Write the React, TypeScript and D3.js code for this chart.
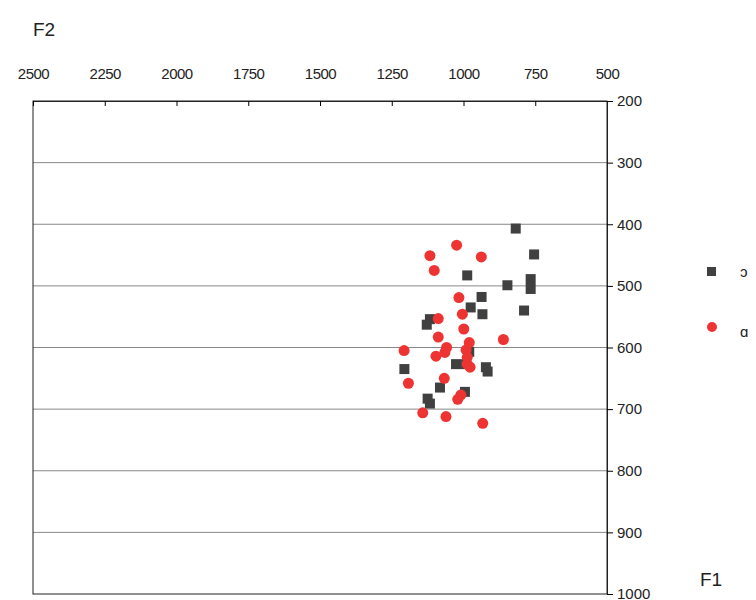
import React, { useEffect, useRef } from 'react'
import * as d3 from 'd3'

// [F2, F1]
const seriesO: [number, number][] = [
  [818, 407], [754, 449], [987, 483], [847, 499], [766, 489], [766, 505],
  [937, 518], [975, 535], [934, 546], [789, 540], [1117, 554], [1128, 563],
  [980, 607], [1026, 627], [991, 627], [922, 632], [916, 639], [1206, 635],
  [1082, 665], [995, 672], [1125, 683], [1117, 691],
]
const seriesA: [number, number][] = [
  [1024, 434], [1117, 451], [938, 453], [1102, 475], [1016, 519], [1004, 546],
  [1088, 553], [999, 570], [1088, 583], [861, 587], [980, 592], [1207, 605],
  [1059, 600], [1065, 608], [1096, 614], [991, 604], [987, 616], [987, 627],
  [977, 632], [1067, 650], [1192, 658], [1009, 677], [1020, 684], [1142, 706],
  [1061, 712], [933, 723],
]
const xTicks = [2500, 2250, 2000, 1750, 1500, 1250, 1000, 750, 500]
const yTicks = [200, 300, 400, 500, 600, 700, 800, 900, 1000]

const App: React.FC = () => {
  const el = useRef<SVGSVGElement>(null)

  useEffect(() => {
    const svg = d3.select(el.current)
    svg.selectAll('*').remove()
    const x = d3.scaleLinear().domain([2500, 500]).range([33, 607])
    const y = d3.scaleLinear().domain([200, 1000]).range([101, 594])
    const font = 'Arial, "Liberation Sans", sans-serif'

    svg.append('g').selectAll('line').data(yTicks.slice(1, -1)).join('line')
      .attr('x1', 33).attr('x2', 607).attr('y1', (d) => y(d)).attr('y2', (d) => y(d))
      .attr('stroke', '#888').attr('stroke-width', 1)

    svg.append('rect').attr('x', 33).attr('y', 101).attr('width', 574).attr('height', 493)
      .attr('fill', 'none').attr('stroke', '#222').attr('stroke-width', 1)

    const top = svg.append('g').attr('transform', 'translate(0,101)')
      .call(d3.axisTop(x).tickValues(xTicks).tickSize(-5).tickSizeOuter(0).tickFormat(d3.format('d')))
    top.select('.domain').attr('stroke', '#222')
    top.selectAll('text').attr('y', -22).attr('font-size', 15).attr('font-family', font).attr('fill', '#222')
      .attr('letter-spacing', '-0.5')

    const right = svg.append('g').attr('transform', 'translate(607,0)')
      .call(d3.axisRight(y).tickValues(yTicks).tickSize(6).tickSizeOuter(0).tickFormat(d3.format('d')))
    right.select('.domain').attr('stroke', '#222')
    right.selectAll('text').attr('x', 10).attr('font-size', 15).attr('font-family', font).attr('fill', '#222')

    svg.append('g').selectAll('rect').data(seriesO).join('rect')
      .attr('x', (d) => x(d[0]) - 5).attr('y', (d) => y(d[1]) - 5)
      .attr('width', 10).attr('height', 10).attr('fill', '#404040')
    svg.append('g').selectAll('circle').data(seriesA).join('circle')
      .attr('cx', (d) => x(d[0])).attr('cy', (d) => y(d[1])).attr('r', 5.5).attr('fill', '#ee3333')

    svg.append('rect').attr('x', 707).attr('y', 267).attr('width', 9).attr('height', 9).attr('fill', '#404040')
    svg.append('circle').attr('cx', 712).attr('cy', 327).attr('r', 5).attr('fill', '#ee3333')
    svg.append('text').attr('x', 740).attr('y', 277).text('ɔ').attr('font-size', 15).attr('font-family', font).attr('fill', '#222')
    svg.append('text').attr('x', 740).attr('y', 337).text('ɑ').attr('font-size', 15).attr('font-family', font).attr('fill', '#222')

    svg.append('text').attr('x', 33).attr('y', 36).text('F2').attr('font-size', 19).attr('font-family', font).attr('fill', '#222')
    svg.append('text').attr('x', 700).attr('y', 586).text('F1').attr('font-size', 19).attr('font-family', font).attr('fill', '#222')
  }, [])

  return <svg ref={el} width={756} height={600} style={{ position: 'absolute', left: 0, top: 0 }} />
}

export default App
